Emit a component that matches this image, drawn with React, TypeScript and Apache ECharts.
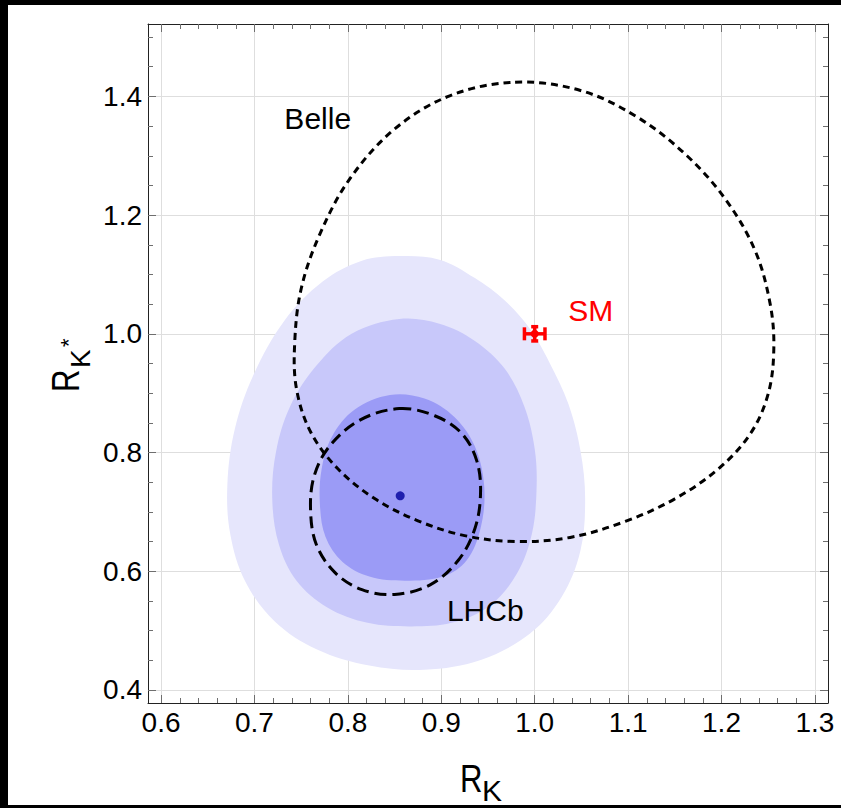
import React, { useEffect, useRef } from 'react';
import * as echarts from 'echarts';

// Plot ranges: [0.6, 1.3] x [0.4, 1.5] with a 2% padding on each side
const xRange = [0.586, 1.314];
const yRange = [0.378, 1.522];

const xMajorTicks = [0.6, 0.7, 0.8, 0.9, 1.0, 1.1, 1.2, 1.3];
const xMinorTicks = [
  0.62, 0.64, 0.66, 0.68, 0.72, 0.74, 0.76, 0.78, 0.82, 0.84, 0.86, 0.88,
  0.92, 0.94, 0.96, 0.98, 1.02, 1.04, 1.06, 1.08, 1.12, 1.14, 1.16, 1.18,
  1.22, 1.24, 1.26, 1.28,
];
const yMajorTicks = [0.4, 0.6, 0.8, 1.0, 1.2, 1.4];
const yMinorTicks = [
  0.45, 0.5, 0.55, 0.65, 0.7, 0.75, 0.85, 0.9, 0.95, 1.05, 1.1, 1.15,
  1.25, 1.3, 1.35, 1.45, 1.5,
];

// Global fit regions in the (R_K, R_K*) plane, outer to inner
const fitOuter = [
  [0.855, 1.131], [0.898, 1.125], [0.936, 1.094], [0.968, 1.056], [0.995, 1.008],
  [1.016, 0.951], [1.036, 0.882], [1.049, 0.803], [1.054, 0.722], [1.049, 0.635],
  [1.029, 0.557], [0.995, 0.495], [0.943, 0.451], [0.882, 0.434], [0.823, 0.441],
  [0.767, 0.468], [0.722, 0.515], [0.690, 0.583], [0.674, 0.663], [0.671, 0.747],
  [0.679, 0.840], [0.699, 0.931], [0.732, 1.022], [0.773, 1.088], [0.815, 1.123],
];
const fitMiddle = [
  [0.855, 1.025], [0.898, 1.017], [0.936, 0.988], [0.968, 0.941], [0.989, 0.877],
  [1.000, 0.806], [1.002, 0.739], [0.997, 0.663], [0.981, 0.596], [0.952, 0.542],
  [0.911, 0.513], [0.866, 0.507], [0.821, 0.513], [0.778, 0.539], [0.745, 0.584],
  [0.726, 0.646], [0.719, 0.722], [0.723, 0.801], [0.738, 0.877], [0.765, 0.944],
  [0.804, 1.000],
];
const fitInner = [
  [0.845, 0.897], [0.882, 0.891], [0.914, 0.860], [0.936, 0.810], [0.946, 0.742],
  [0.942, 0.672], [0.927, 0.618], [0.902, 0.591], [0.861, 0.584], [0.823, 0.591],
  [0.794, 0.616], [0.776, 0.658], [0.770, 0.714], [0.772, 0.773], [0.783, 0.827],
  [0.807, 0.872],
];
const bestFit = [[0.856, 0.727]];

// Experimental contours
const belleContour = [
  [0.979, 1.424], [1.049, 1.410], [1.110, 1.365], [1.163, 1.300], [1.205, 1.225],
  [1.236, 1.140], [1.252, 1.051], [1.256, 0.975], [1.250, 0.899], [1.231, 0.832],
  [1.197, 0.773], [1.150, 0.722], [1.097, 0.684], [1.038, 0.657], [0.979, 0.650],
  [0.925, 0.660], [0.875, 0.685], [0.829, 0.722], [0.789, 0.773], [0.760, 0.835],
  [0.745, 0.907], [0.743, 0.983], [0.750, 1.076], [0.770, 1.168], [0.802, 1.261],
  [0.850, 1.345], [0.909, 1.401],
];
const lhcbContour = [
  [0.855, 0.874], [0.893, 0.862], [0.922, 0.832], [0.938, 0.786], [0.942, 0.731],
  [0.936, 0.672], [0.918, 0.618], [0.888, 0.577], [0.850, 0.561], [0.815, 0.569],
  [0.786, 0.598], [0.766, 0.646], [0.760, 0.705], [0.764, 0.761], [0.780, 0.810],
  [0.812, 0.854],
];

// Standard Model point: [R_K, R_K*, err R_K, err R_K*]
const smPoint = [[1.0, 1.0, 0.011, 0.012]];

const labelNames = ['Belle', 'LHCb', 'SM'];
const labelX = [0.732, 0.906, 1.036];
const labelY = [1.362, 0.534, 1.040];

const FONT = "'Liberation Sans', Arial, Helvetica, sans-serif";
const FRAME = '#222222';
const TICK = '#6e6e6e';
const GRID = '#dedede';
const SM_RED = '#ff0000';
const FILLS = ['#e6e6fc', '#c8c8fa', '#9b9bf6'];
const SMOOTH = 0.35;

function makeAxis(
  kind: 'x' | 'y',
  gridIndex: number,
  position: string,
  ticks: number[],
  tickLen: number,
  withLabels: boolean,
  withGrid: boolean,
  showLine: boolean,
) {
  const range = kind === 'x' ? xRange : yRange;
  return {
    type: 'value',
    gridIndex,
    position,
    min: range[0],
    max: range[1],
    axisLine: { show: showLine, onZero: false, lineStyle: { color: FRAME, width: 1 } },
    axisTick: {
      show: true,
      inside: true,
      length: tickLen,
      customValues: ticks,
      lineStyle: { color: TICK, width: 1 },
    },
    axisLabel: withLabels
      ? {
          show: true,
          customValues: ticks,
          formatter: (v: number) => v.toFixed(1),
          color: '#000',
          fontSize: 28,
          fontFamily: FONT,
          margin: kind === 'x' ? 5 : 6,
        }
      : { show: false },
    splitLine: { show: withGrid, lineStyle: { color: GRID, width: 1 } },
    minorTick: { show: false },
    minorSplitLine: { show: false },
  };
}

function regionSeries(points: number[][], style: any) {
  return {
    type: 'custom',
    xAxisIndex: 0,
    yAxisIndex: 0,
    data: points,
    silent: true,
    renderItem: (params: any, api: any) => {
      if (params.dataIndex !== 0) return null;
      return {
        type: 'polygon',
        shape: { points: points.map((p) => api.coord(p)), smooth: SMOOTH },
        style,
      };
    },
  };
}

export default function App() {
  const ref = useRef<HTMLDivElement>(null);

  useEffect(() => {
    if (!ref.current) return;
    const chart = echarts.init(ref.current, null, { renderer: 'svg' });

    const gridBox = { left: 148, top: 24, width: 680, height: 679, containLabel: false, outerBoundsMode: 'none' };

    const option: any = {
      animation: false,
      backgroundColor: '#ffffff',
      grid: [gridBox, { ...gridBox }],
      xAxis: [
        makeAxis('x', 0, 'bottom', xMajorTicks, 8, true, true, true),
        makeAxis('x', 0, 'top', xMajorTicks, 8, false, false, true),
        makeAxis('x', 1, 'bottom', xMinorTicks, 5, false, false, false),
        makeAxis('x', 1, 'top', xMinorTicks, 5, false, false, false),
      ],
      yAxis: [
        makeAxis('y', 0, 'left', yMajorTicks, 8, true, true, true),
        makeAxis('y', 0, 'right', yMajorTicks, 8, false, false, true),
        makeAxis('y', 1, 'left', yMinorTicks, 5, false, false, false),
        makeAxis('y', 1, 'right', yMinorTicks, 5, false, false, false),
      ],
      series: [
        regionSeries(fitOuter, { fill: FILLS[0] }),
        regionSeries(fitMiddle, { fill: FILLS[1] }),
        regionSeries(fitInner, { fill: FILLS[2] }),
        regionSeries(belleContour, { fill: 'none', stroke: '#000', lineWidth: 3, lineDash: [7, 5] }),
        regionSeries(lhcbContour, { fill: 'none', stroke: '#000', lineWidth: 3, lineDash: [12, 6] }),
        {
          type: 'scatter',
          xAxisIndex: 0,
          yAxisIndex: 0,
          data: bestFit,
          symbol: 'circle',
          symbolSize: 9,
          itemStyle: { color: '#00009c' },
          silent: true,
        },
        {
          type: 'custom',
          xAxisIndex: 0,
          yAxisIndex: 0,
          data: smPoint,
          silent: true,
          renderItem: (_params: any, api: any) => {
            const x = api.value(0);
            const y = api.value(1);
            const ex = api.value(2);
            const ey = api.value(3);
            const c = api.coord([x, y]);
            const l = api.coord([x - ex, y]);
            const r = api.coord([x + ex, y]);
            const t = api.coord([x, y + ey]);
            const b = api.coord([x, y - ey]);
            const st = { stroke: SM_RED, lineWidth: 3.5 };
            return {
              type: 'group',
              children: [
                { type: 'line', shape: { x1: l[0], y1: l[1], x2: r[0], y2: r[1] }, style: st },
                { type: 'line', shape: { x1: l[0], y1: l[1] - 6.5, x2: l[0], y2: l[1] + 6.5 }, style: st },
                { type: 'line', shape: { x1: r[0], y1: r[1] - 6.5, x2: r[0], y2: r[1] + 6.5 }, style: st },
                { type: 'line', shape: { x1: t[0], y1: t[1], x2: b[0], y2: b[1] }, style: st },
                { type: 'line', shape: { x1: t[0] - 3.5, y1: t[1], x2: t[0] + 3.5, y2: t[1] }, style: st },
                { type: 'line', shape: { x1: b[0] - 3.5, y1: b[1], x2: b[0] + 3.5, y2: b[1] }, style: st },
                { type: 'circle', shape: { cx: c[0], cy: c[1], r: 4 }, style: { fill: SM_RED } },
              ],
            };
          },
        },
        {
          type: 'custom',
          xAxisIndex: 0,
          yAxisIndex: 0,
          data: labelNames.map((_, i) => [labelX[i], labelY[i], i]),
          silent: true,
          renderItem: (_params: any, api: any) => {
            const i = api.value(2);
            const p = api.coord([api.value(0), api.value(1)]);
            return {
              type: 'text',
              x: p[0],
              y: p[1],
              style: {
                text: labelNames[i],
                fill: labelNames[i] === 'SM' ? SM_RED : '#000',
                fontSize: 30,
                fontFamily: FONT,
                align: 'left',
                verticalAlign: 'middle',
              },
            };
          },
        },
      ],
      graphic: [
        // dark edges around the figure
        { type: 'rect', shape: { x: 0, y: 0, width: 841, height: 5 }, style: { fill: '#000' } },
        { type: 'rect', shape: { x: 0, y: 0, width: 8, height: 808 }, style: { fill: '#000' } },
        { type: 'rect', shape: { x: 0, y: 805, width: 841, height: 3 }, style: { fill: '#000' } },
        // horizontal axis title R_K
        {
          type: 'text',
          x: 460,
          y: 779,
          scaleX: 0.82,
          style: { text: 'R', fontSize: 38, fontFamily: FONT, fill: '#000', align: 'left', verticalAlign: 'middle' },
        },
        {
          type: 'text',
          x: 482,
          y: 790,
          style: { text: 'K', fontSize: 30, fontFamily: FONT, fill: '#000', align: 'left', verticalAlign: 'middle' },
        },
        // vertical axis title R_K*
        {
          type: 'text',
          x: 66,
          y: 392,
          rotation: Math.PI / 2,
          scaleX: 0.82,
          style: { text: 'R', fontSize: 38, fontFamily: FONT, fill: '#000', align: 'left', verticalAlign: 'middle' },
        },
        {
          type: 'text',
          x: 80,
          y: 368,
          rotation: Math.PI / 2,
          style: { text: 'K', fontSize: 28, fontFamily: FONT, fill: '#000', align: 'left', verticalAlign: 'middle' },
        },
        {
          type: 'text',
          x: 68,
          y: 347,
          rotation: Math.PI / 2,
          style: { text: '*', fontSize: 22, fontFamily: FONT, fill: '#000', align: 'left', verticalAlign: 'middle' },
        },
      ],
    };

    chart.setOption(option);
    return () => chart.dispose();
  }, []);

  return (
    <div
      ref={ref}
      style={{ position: 'fixed', left: 0, top: 0, width: 841, height: 808, background: '#fff' }}
    />
  );
}
